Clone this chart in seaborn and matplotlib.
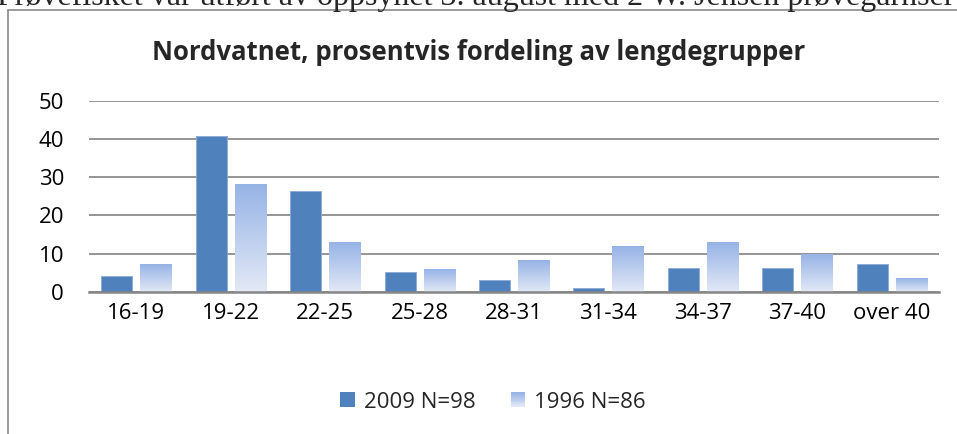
import numpy as np
import pandas as pd
import matplotlib
matplotlib.use('Agg')
import matplotlib.pyplot as plt
import seaborn as sns
from matplotlib.legend_handler import HandlerBase
from matplotlib.patches import Rectangle, Patch
from matplotlib.lines import Line2D
from matplotlib.colors import LinearSegmentedColormap

groups = ['16-19', '19-22', '22-25', '25-28', '28-31', '31-34', '34-37', '37-40', 'over 40']
pct_2009 = [4.0, 40.8, 26.5, 5.2, 3.1, 1.0, 6.1, 6.1, 7.2]
pct_1996 = [7.3, 28.3, 13.0, 5.9, 8.3, 12.0, 13.0, 9.8, 3.6]
series = ['2009 N=98', '1996 N=86']
title = 'Nordvatnet, prosentvis fordeling av lengdegrupper'
intro = 'Prøvefisket var utført av oppsynet 3. august med 2 W. Jensen prøvegarnser'

df = pd.DataFrame({
    'gruppe': groups * 2,
    'prosent': pct_2009 + pct_1996,
    'serie': [series[0]] * len(groups) + [series[1]] * len(groups),
})

BLUE = '#4F81BD'
grad_cmap = LinearSegmentedColormap.from_list('lys', ['#E3E9F6', '#96B3E6'])

sns.set_theme(style='white')
plt.rcParams['font.family'] = ['Open Sans', 'DejaVu Sans']

fig = plt.figure(figsize=(9.57, 4.34), dpi=100)
ax = fig.add_axes([89 / 957, 1 - 291.7 / 434, 850 / 957, 190.7 / 434])

sns.barplot(data=df, x='gruppe', y='prosent', hue='serie', order=groups,
            hue_order=series, palette=[BLUE, '#B9CDEB'], saturation=1,
            width=0.826, gap=0.205, legend=False, ax=ax)

# gradient fill for the 1996 bars
grad = np.linspace(0, 1, 256).reshape(-1, 1)
for bar in ax.containers[1]:
    x0, y0 = bar.get_x(), bar.get_y()
    w, h = bar.get_width(), bar.get_height()
    bar.set_facecolor('none')
    bar.set_edgecolor('none')
    ax.imshow(grad, extent=[x0, x0 + w, y0, y0 + h], origin='lower',
              aspect='auto', cmap=grad_cmap, zorder=bar.get_zorder())
for bar in ax.containers[0]:
    bar.set_edgecolor('#8AAAD6')
    bar.set_linewidth(0.6)

ax.set_xlim(-0.5, len(groups) - 0.5)
ax.set_ylim(0, 50)
ax.set_yticks(range(0, 51, 10))
ax.yaxis.grid(True, color='#8C8C8C', lw=1.3)
ax.set_axisbelow(True)
for s in ['top', 'right', 'left']:
    ax.spines[s].set_visible(False)
ax.spines['bottom'].set_color('#868686')
ax.spines['bottom'].set_linewidth(1.8)
ax.spines['bottom'].set_zorder(5)
ax.tick_params(axis='both', length=0, labelsize=16, colors='black')
ax.tick_params(axis='y', pad=18)
ax.tick_params(axis='x', pad=8)
ax.set_xlabel('')
ax.set_ylabel('')

fig.text(0.5, 1 - 52 / 434, title, ha='center', va='center',
         fontsize=18.5, fontweight='bold')


class GradientHandler(HandlerBase):
    def create_artists(self, legend, orig_handle, xdescent, ydescent,
                       width, height, fontsize, trans):
        n = 16
        arts = []
        for i in range(n):
            r = Rectangle((-xdescent, -ydescent + i * height / n), width, height / n + 0.05,
                          facecolor=grad_cmap(i / (n - 1)), edgecolor='none',
                          transform=trans)
            arts.append(r)
        return arts


h2009 = Patch(facecolor=BLUE, edgecolor='none')
h1996 = Patch(facecolor='#B9CDEB')
fig.legend(handles=[h2009, h1996], labels=series,
           handler_map={h1996: GradientHandler()},
           loc='center', bbox_to_anchor=(493 / 957, 1 - 402 / 434), ncol=2,
           frameon=False, fontsize=16, handlelength=0.65, handleheight=0.65,
           handletextpad=0.4, columnspacing=1.6)

# chart frame and the cut text above it
fig.add_artist(Line2D([8 / 957, 8 / 957], [0, 1 - 10 / 434], transform=fig.transFigure,
                      color='#8A8A8A', lw=1.2))
fig.add_artist(Line2D([8 / 957, 1], [1 - 10 / 434, 1 - 10 / 434], transform=fig.transFigure,
                      color='#8A8A8A', lw=1.2))
fig.text(-0.003, 1 - 5 / 434, intro, ha='left', va='baseline', fontsize=23,
         family=['Liberation Serif', 'DejaVu Serif'])

fig.savefig('out.png', dpi=100)
